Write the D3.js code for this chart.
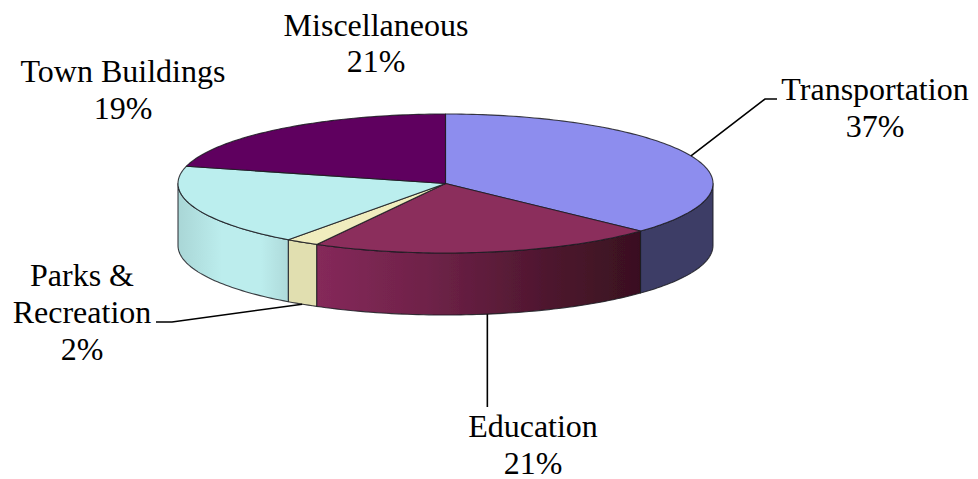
<!DOCTYPE html>
<html><head><meta charset="utf-8">
<script src="https://cdnjs.cloudflare.com/ajax/libs/d3/7.8.5/d3.min.js"></script>
<style>html,body{margin:0;padding:0;background:#fff}svg{display:block}text{font-family:"Liberation Serif",serif;font-size:32px;fill:#000;text-anchor:middle}</style>
</head><body><svg id="c" width="978" height="479"></svg>
<script>
const categories = ["Transportation","Education","Parks & Recreation","Town Buildings","Miscellaneous"];
const shares = [37,21,2,19,21];
const topColors = ["#8D8DEE","#8B2D5C","#F0EDBE","#BBEEEE","#5E005E"];
const sideStops = [
  [["0","#3D3D66"],["1","#3D3D66"]],
  [["0","#85295A"],["0.35","#6E2248"],["0.7","#4F172F"],["1","#391020"]],
  [["0","#E1DFB0"],["1","#E1DFB0"]],
  [["0","#A9D6D6"],["0.4","#BCEDED"],["0.75","#BCEDED"],["1","#AEDADA"]],
  [["0","#3A003A"],["1","#3A003A"]]
];
// label layout: [line, baseline y] with centre x
const labelLines = [
  {cx:875, lines:[["Transportation",100],["37%",137]]},
  {cx:533, lines:[["Education",437],["21%",474]]},
  {cx:82,  lines:[["Parks &",286],["Recreation",323],["2%",360]]},
  {cx:123, lines:[["Town Buildings",82],["19%",119]]},
  {cx:376, lines:[["Miscellaneous",36],["21%",72]]}
];
// leader elbows: target label end, per slice (null = none)
const leaders = [
  {elbow:[765,99], end:[777,99], bottom:false},
  {elbow:null, end:[485,407], bottom:true},
  {elbow:[172,322], end:[156,322], bottom:true},
  null, null
];

const sx = d3.scaleLinear().domain([-1,1]).range([178,713]);
const sy = d3.scaleLinear().domain([-1,1]).range([114,253]);
const depth = 62;
const px = t => sx(Math.sin(t));
const py = t => sy(-Math.cos(t));
const svg = d3.select("#c");
const defs = svg.append("defs");
const f = defs.append("filter").attr("id","soft").attr("x","-5%").attr("y","-5%").attr("width","110%").attr("height","110%");
f.append("feGaussianBlur").attr("stdDeviation",0.45);

const arcs = d3.pie().sort(null).value(d=>d)(shares);
const arcPts = (a,b,dy=0) => {
  const n = Math.max(2,Math.ceil(Math.abs(b-a)/0.02));
  return d3.range(n+1).map(i=>{const t=a+(b-a)*i/n;return [px(t),py(t)+dy];});
};
const line = d3.line();
const g = svg.append("g").attr("filter","url(#soft)");

// side walls, visible on the near half of the ellipse
arcs.forEach((s,i)=>{
  const a = Math.max(s.startAngle,Math.PI/2), b = Math.min(s.endAngle,Math.PI*1.5);
  if (b<=a) return;
  const top = arcPts(a,b), bot = arcPts(a,b,depth).reverse();
  const xs = top.map(p=>p[0]);
  const grad = defs.append("linearGradient").attr("id","w"+i).attr("gradientUnits","userSpaceOnUse")
    .attr("x1",d3.min(xs)).attr("x2",d3.max(xs)).attr("y1",0).attr("y2",0);
  sideStops[i].forEach(st=>grad.append("stop").attr("offset",st[0]).attr("stop-color",st[1]));
  g.append("path").attr("d",line(top.concat(bot))+"Z").attr("fill",`url(#w${i})`)
    .attr("stroke","#1c1c22").attr("stroke-width",1.1).attr("stroke-opacity",0.85).attr("stroke-linejoin","round");
});
// top faces
arcs.forEach((s,i)=>{
  const pts = [[sx(0),sy(0)]].concat(arcPts(s.startAngle,s.endAngle));
  g.append("path").attr("d",line(pts)+"Z").attr("fill",topColors[i])
    .attr("stroke","#1c1c22").attr("stroke-width",1.1).attr("stroke-opacity",0.85).attr("stroke-linejoin","round");
});
// leader lines from mid-angle of each slice
arcs.forEach((s,i)=>{
  const L = leaders[i]; if(!L) return;
  const m = (s.startAngle+s.endAngle)/2;
  const p0 = [px(m),py(m)+(L.bottom?depth:0)];
  const pts = L.elbow ? [p0,L.elbow,L.end] : [p0,[p0[0],L.end[1]]];
  svg.append("path").attr("d",line(pts)).attr("fill","none").attr("stroke","#000").attr("stroke-width",1.6);
});
// labels
labelLines.forEach(l=>l.lines.forEach(([t,y])=>{
  svg.append("text").attr("x",l.cx).attr("y",y).text(t);
}));
</script></body></html>
